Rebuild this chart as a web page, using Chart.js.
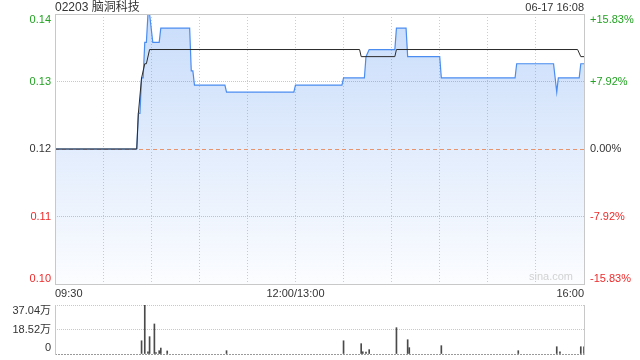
<!DOCTYPE html>
<html>
<head>
<meta charset="utf-8">
<script src="https://cdn.jsdelivr.net/npm/chart.js@4.4.1/dist/chart.umd.min.js"></script>
<style>
html,body{margin:0;padding:0;background:#fff;width:640px;height:360px;overflow:hidden;}
#main{position:absolute;left:0;top:0;}
#vol{position:absolute;left:0;top:300px;}
</style>
</head>
<body>
<canvas id="main" width="640" height="300"></canvas>
<canvas id="vol" width="640" height="60"></canvas>
<script>
// ---- data (minutes after 09:30, lunch break removed; 330 = 16:00) ----
const titleText = '02203 脑洞科技';
const dateText = '06-17 16:08';
const prevClose = 0.12;

const priceMinutes = [0,51,52,53,54,55,56,57,58,59,61,65,66,84,85,86,87,106,107,149,150,179,180,193,194,196,212,213,219,220,240,241,287,288,311,313,314,327,328,330];
const priceValues  = [0.120,0.120,0.125,0.125,0.130,0.130,0.135,0.135,0.139,0.139,0.135,0.135,0.137,0.137,0.131,0.131,0.129,0.129,0.128,0.128,0.129,0.129,0.130,0.130,0.133,0.134,0.134,0.137,0.137,0.133,0.133,0.130,0.130,0.132,0.132,0.128,0.130,0.130,0.132,0.132];

const avgMinutes = [0,51,52,54,56,57,59,190,191,212,213,326,328,330];
const avgValues  = [0.120,0.120,0.125,0.130,0.132,0.132,0.134,0.134,0.133,0.133,0.134,0.134,0.133,0.133];

const volMinutes = [54,56,58,59,62,63,65,66,70,107,180,191,192,194,196,213,220,221,241,289,313,315,328,330];
const volValues  = [10.0,37.04,1.7,13.1,22.7,1.0,2.5,4.5,2.3,2.5,10.0,7.8,1.7,1.5,3.3,19.9,10.8,4.8,6.3,2.5,5.5,1.7,5.5,5.5];

const priceTicks = [0.101,0.1105,0.12,0.1295,0.139];
const priceTickLabels = ['0.10','0.11','0.12','0.13','0.14'];
const pctTickLabels = ['-15.83%','-7.92%','0.00%','+7.92%','+15.83%'];

const volTicks = [0,18.52,37.04];
const volTickLabels = ['0','18.52万','37.04万'];

const timeTickMinutes = [0,150,330];
const timeTickLabels = ['09:30','12:00/13:00','16:00'];

const FONT = "'Liberation Sans', Arial, 'Noto Sans CJK SC', sans-serif";
const GREEN = '#22a322';
const RED = '#ee2a2a';
const TXT = '#333333';
const PREV_COLOR = '#e8946c';

function isPrev(c){ return !!(c.tick && Math.abs(c.tick.value - prevClose) < 1e-9); }
function colorFor(v){ return v > prevClose + 1e-9 ? GREEN : (v < prevClose - 1e-9 ? RED : TXT); }

const mainPlugin = {
  id: 'mainDecor',
  beforeDatasetDraw(chart, args){
    // previous-close dashed line, drawn over the area fill but under the price line
    if (args.index !== 1) return;
    const {ctx, chartArea:a, scales:{y}} = chart;
    const py = Math.round(y.getPixelForValue(prevClose)) + 0.5;
    ctx.save();
    ctx.strokeStyle = PREV_COLOR;
    ctx.lineWidth = 1;
    ctx.setLineDash([4,3]);
    ctx.beginPath();
    ctx.moveTo(a.left, py);
    ctx.lineTo(a.right, py);
    ctx.stroke();
    ctx.restore();
  },
  afterDraw(chart){
    const {ctx, chartArea:a, scales:{x, y}} = chart;
    ctx.save();
    ctx.strokeStyle = '#c8c8c8';
    ctx.lineWidth = 1;
    ctx.setLineDash([]);
    ctx.strokeRect(Math.round(a.left)+0.5, Math.round(a.top)+0.5, Math.round(a.right-a.left), Math.round(a.bottom-a.top));

    ctx.font = '11px ' + FONT;
    ctx.textBaseline = 'middle';
    priceTicks.forEach((v,i) => {
      let py = y.getPixelForValue(v);
      py = Math.max(a.top + 6, Math.min(a.bottom - 5, py));
      ctx.fillStyle = colorFor(v);
      ctx.textAlign = 'right';
      ctx.fillText(priceTickLabels[i], a.left - 4, py);
      ctx.textAlign = 'left';
      ctx.fillText(pctTickLabels[i], a.right + 6, py);
    });

    ctx.fillStyle = TXT;
    timeTickMinutes.forEach((m,i) => {
      const px = x.getPixelForValue(m);
      ctx.textAlign = i === 0 ? 'left' : (i === timeTickMinutes.length-1 ? 'right' : 'center');
      ctx.fillText(timeTickLabels[i], px, a.bottom + 10);
    });

    ctx.font = '12px ' + FONT;
    ctx.textAlign = 'left';
    ctx.fillText(titleText, a.left, 8);
    ctx.font = '11px ' + FONT;
    ctx.textAlign = 'right';
    ctx.fillText(dateText, a.right, 8);

    ctx.fillStyle = '#d2d2d2';
    ctx.textAlign = 'right';
    ctx.fillText('sina.com', a.right - 11, a.bottom - 7);
    ctx.restore();
  }
};

new Chart(document.getElementById('main'), {
  type: 'line',
  data: {
    datasets: [
      {
        data: avgMinutes.map((m,i) => ({x:m, y:avgValues[i]})),
        borderColor: '#2a2a2a', borderWidth: 1, pointRadius: 0, tension: 0, fill: false, order: 0
      },
      {
        data: priceMinutes.map((m,i) => ({x:m, y:priceValues[i]})),
        borderColor: '#4a8cf0', borderWidth: 1.2, pointRadius: 0, tension: 0, fill: 'start', order: 1,
        backgroundColor: (c) => {
          const ch = c.chart, a = ch.chartArea;
          if (!a) return 'rgba(74,140,240,0.15)';
          const g = ch.ctx.createLinearGradient(0, a.top, 0, a.bottom);
          g.addColorStop(0, 'rgba(74,140,240,0.30)');
          g.addColorStop(1, 'rgba(74,140,240,0.02)');
          return g;
        }
      }
    ]
  },
  options: {
    responsive: false, animation: false, events: [],
    layout: {padding: {left:55, right:56, top:14, bottom:16}},
    plugins: {legend: {display:false}, tooltip: {enabled:false}},
    scales: {
      x: {
        type: 'linear', min: 0, max: 330,
        ticks: {display:false, stepSize:30},
        grid: {color:'#cdcdcd', drawTicks:false, lineWidth:1},
        border: {display:false, dash:[1,2]},
        afterFit(s){ s.height = 0; }
      },
      y: {
        type: 'linear', min: priceTicks[0], max: priceTicks[priceTicks.length-1],
        afterBuildTicks(s){ s.ticks = priceTicks.map(v => ({value:v})); },
        ticks: {display:false},
        grid: {
          drawTicks:false, lineWidth:1,
          color: (c) => isPrev(c) ? 'rgba(0,0,0,0)' : '#c8c8c8'
        },
        border: {display:false, dash:[1,1]},
        afterFit(s){ s.width = 0; }
      }
    }
  },
  plugins: [mainPlugin]
});

const volPlugin = {
  id: 'volDecor',
  afterDraw(chart){
    const {ctx, chartArea:a, scales:{y}} = chart;
    ctx.save();
    ctx.strokeStyle = '#c8c8c8';
    ctx.lineWidth = 1;
    ctx.beginPath();
    ctx.moveTo(Math.round(a.left)+0.5, Math.round(a.top));
    ctx.lineTo(Math.round(a.left)+0.5, Math.round(a.bottom)+1);
    ctx.moveTo(Math.round(a.right)+0.5, Math.round(a.top));
    ctx.lineTo(Math.round(a.right)+0.5, Math.round(a.bottom)+1);
    ctx.stroke();
    ctx.font = '11px ' + FONT;
    ctx.fillStyle = TXT;
    ctx.textAlign = 'right';
    ctx.textBaseline = 'middle';
    volTicks.forEach((v,i) => {
      let py = y.getPixelForValue(v);
      py = Math.max(a.top + 6, Math.min(a.bottom - 6, py));
      ctx.fillText(volTickLabels[i], a.left - 4, py);
    });
    ctx.restore();
  }
};

new Chart(document.getElementById('vol'), {
  type: 'bar',
  data: {
    datasets: [{
      data: volMinutes.map((m,i) => ({x:m, y:volValues[i]})),
      backgroundColor: '#4a4a4a', borderWidth: 0, barThickness: 1
    }]
  },
  options: {
    responsive: false, animation: false, events: [],
    layout: {padding: {left:55, right:56, top:5, bottom:6}},
    plugins: {legend: {display:false}, tooltip: {enabled:false}},
    scales: {
      x: {
        type: 'linear', min: 0, max: 330, offset: false,
        ticks: {display:false},
        grid: {display:false},
        border: {display:false},
        afterFit(s){ s.height = 0; }
      },
      y: {
        type: 'linear', min: 0, max: volTicks[volTicks.length-1],
        afterBuildTicks(s){ s.ticks = volTicks.map(v => ({value:v})); },
        ticks: {display:false},
        grid: {
          drawTicks:false, lineWidth:1,
          color: (c) => (c.tick && c.tick.value === 0) ? '#9a9a9a' : '#c8c8c8'
        },
        border: {
          display:false,
          dash: (c) => (c.tick && c.tick.value === 0) ? [2,1] : [1,1]
        },
        afterFit(s){ s.width = 0; }
      }
    }
  },
  plugins: [volPlugin]
});
</script>
</body>
</html>
